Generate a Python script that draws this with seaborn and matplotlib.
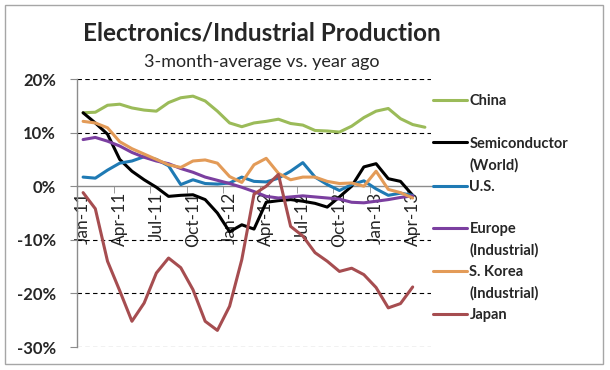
import numpy as np
import pandas as pd
import seaborn as sns
import matplotlib.pyplot as plt
from matplotlib.lines import Line2D
from matplotlib.patches import Rectangle

# monthly categories, Jan-11 .. May-13
months = pd.date_range("2011-01-01", periods=29, freq="MS").strftime("%b-%y").tolist()

china = [13.7, 13.8, 15.1, 15.3, 14.6, 14.2, 14.0, 15.6, 16.5, 16.8, 15.9, 14.0, 11.8, 11.1,
         11.8, 12.1, 12.5, 11.7, 11.4, 10.4, 10.3, 10.1, 11.2, 12.8, 14.0, 14.5, 12.6, 11.5, 11.0]
semi = [13.7, 11.8, 9.7, 5.0, 2.8, 1.2, -0.2, -1.9, -1.7, -1.6, -2.5, -5.0, -8.5, -7.2,
        -8.0, -3.0, -2.7, -2.5, -2.8, -3.2, -3.9, -2.0, 0.0, 3.6, 4.2, 1.4, 0.9, -1.7]
us = [1.7, 1.5, 3.0, 4.3, 4.7, 5.5, 5.0, 3.8, 0.3, 1.2, 0.5, 0.4, 0.6, 1.7,
      0.9, 0.8, 1.5, 2.8, 4.4, 1.7, 0.3, -0.8, 0.3, 1.0, -0.5, -1.7, -1.3, -1.7]
europe = [8.7, 9.1, 8.4, 7.5, 6.3, 5.4, 4.7, 4.2, 3.3, 2.6, 1.7, 1.1, 0.5, -0.2,
          -1.0, -1.9, -2.2, -2.0, -1.8, -2.0, -2.2, -2.4, -3.0, -3.1, -2.8, -2.5, -2.1, -1.8]
korea = [12.1, 11.8, 10.9, 8.3, 7.0, 6.0, 5.0, 4.0, 3.5, 4.7, 4.9, 4.3, 1.8, 0.7,
         4.0, 5.2, 2.4, 1.2, 1.7, 1.7, 0.9, 0.5, 0.6, 0.0, 2.8, -0.6, -1.2, -2.2]
japan = [-1.2, -4.2, -14.0, -19.5, -25.2, -21.8, -16.2, -13.4, -15.2, -19.3, -25.2, -26.9, -22.4, -13.7,
         -1.5, 0.0, 2.2, -7.5, -9.3, -12.4, -14.0, -15.9, -15.3, -16.5, -18.9, -22.7, -21.9, -18.8]

names = ["China", "Semiconductor\n(World)", "U.S.", "Europe\n(Industrial)",
         "S. Korea\n(Industrial)", "Japan"]
colors = ["#9BBB59", "#000000", "#1F7AB4", "#7B3FA0", "#E39B58", "#A64D50"]
series = [china, semi, us, europe, korea, japan]

frames = []
for name, vals in zip(names, series):
    frames.append(pd.DataFrame({"idx": range(len(vals)), "value": vals, "series": name}))
df = pd.concat(frames, ignore_index=True)

sns.set_style("white")
plt.rcParams["font.family"] = ["Lato", "DejaVu Sans"]

fig = plt.figure(figsize=(6.1, 3.7), dpi=100)
ax = fig.add_axes([77 / 610, 1 - 347 / 370, (431 - 77) / 610, (347 - 79) / 370])

sns.lineplot(data=df, x="idx", y="value", hue="series", palette=dict(zip(names, colors)),
             linewidth=2.2, legend=False, ax=ax, zorder=3)

ax.set_xlim(-0.5, 28.5)
ax.set_ylim(-30, 20)

# dashed gridlines except at zero (the axis sits there)
for yv in [-30, -20, -10, 10, 20]:
    ax.axhline(yv, color="black", lw=0.8, ls=(0, (4, 3)), zorder=1)

ax.spines["top"].set_visible(False)
ax.spines["right"].set_visible(False)
ax.spines["bottom"].set_position(("data", 0))
for s in ["left", "bottom"]:
    ax.spines[s].set_color("#8C8C8C")
    ax.spines[s].set_linewidth(1.0)
    ax.spines[s].set_zorder(2)

ax.set_yticks([-30, -20, -10, 0, 10, 20])
ax.set_yticklabels([f"{v}%" for v in [-30, -20, -10, 0, 10, 20]],
                   fontsize=12, fontweight="bold")
ax.tick_params(axis="y", direction="out", length=5, color="#8C8C8C", pad=10, left=True)

label_pos = list(range(0, 28, 3))
ax.set_xticks(label_pos)
ax.set_xticklabels([months[i] for i in label_pos], rotation=90, fontsize=12.5)
ax.set_xticks([p - 0.5 for p in range(0, 30, 3)], minor=True)
ax.tick_params(axis="x", which="major", length=0, pad=4, bottom=True)
ax.tick_params(axis="x", which="minor", direction="out", length=5, color="#8C8C8C", bottom=True)
for lab in ax.get_xticklabels():
    lab.set_verticalalignment("top")
ax.set_xlabel("")
ax.set_ylabel("")

# legend with two rows per entry
handles, labels = [], []
for name, c in zip(names, colors):
    parts = name.split("\n")
    handles.append(Line2D([], [], color=c, lw=2.2))
    labels.append(parts[0])
    handles.append(Line2D([], [], color="none"))
    labels.append(parts[1] if len(parts) > 1 else " ")
leg = fig.legend(handles[:-1], labels[:-1], loc="upper left",
                 bbox_to_anchor=(433 / 610, 1 - 94 / 370), frameon=False,
                 prop={"weight": "bold", "size": 10.5}, handlelength=2.3,
                 handletextpad=0.2, labelspacing=0.5, borderpad=0, borderaxespad=0)

fig.text(262 / 610, 1 - 33 / 370, "Electronics/Industrial Production",
         ha="center", va="center", fontsize=17.5, fontweight="bold")
fig.text(262 / 610, 1 - 62 / 370, "3-month-average vs. year ago",
         ha="center", va="center", fontsize=13)

fig.patches.append(Rectangle((5 / 610, 1 - 364 / 370), 598 / 610, 359 / 370,
                             transform=fig.transFigure, fill=False,
                             edgecolor="#A6A6A6", lw=1.0))

fig.savefig("out.png", dpi=100)
